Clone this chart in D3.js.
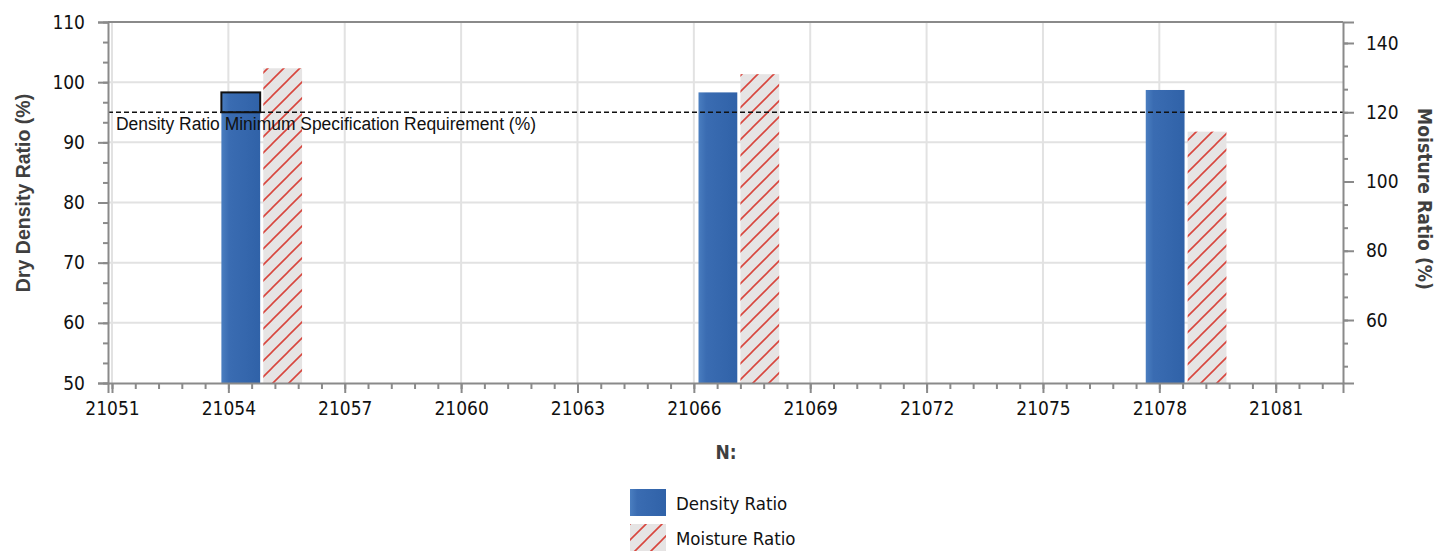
<!DOCTYPE html>
<html>
<head>
<meta charset="utf-8">
<script src="https://cdn.jsdelivr.net/npm/d3@7/dist/d3.min.js"></script>
<style>
  html, body { margin: 0; padding: 0; background: #fff; }
  svg { display: block; }
</style>
</head>
<body>
<svg id="chart" width="1437" height="551"></svg>
<script>
// ---- data ----
const nValues = [21054.86, 21067.16, 21078.69];
const densityRatio = [98.3, 98.3, 98.7];
const moistureRatio = [132.7, 131.0, 114.4];
const xTickValues = [21051, 21054, 21057, 21060, 21063, 21066, 21069, 21072, 21075, 21078, 21081];
const leftTickValues = [50, 60, 70, 80, 90, 100, 110];
const rightTickValues = [60, 80, 100, 120, 140];
const densitySpec = 95;
const specLabel = "Density Ratio Minimum Specification Requirement (%)";
const seriesNames = ["Density Ratio", "Moisture Ratio"];

// ---- layout ----
const svg = d3.select("#chart");
const L = 108, R = 1343, T = 22, B = 383;
const x = d3.scaleLinear().domain([21050.897, 21082.735]).range([L, R]);
const yL = d3.scaleLinear().domain([50, 110]).range([B, T]);
const yR = d3.scaleLinear().domain([41.81, 146.06]).range([B, T]);
const barW = 1.0, gap = 0.04;

const defs = svg.append("defs");
const grad = defs.append("linearGradient").attr("id", "blueGrad").attr("x1", "0").attr("x2", "1").attr("y1", "0").attr("y2", "0");
grad.append("stop").attr("offset", "0%").attr("stop-color", "#4a7ec0");
grad.append("stop").attr("offset", "20%").attr("stop-color", "#3a6cb2");
grad.append("stop").attr("offset", "100%").attr("stop-color", "#3062a8");
const pat = defs.append("pattern").attr("id", "hatch").attr("patternUnits", "userSpaceOnUse")
  .attr("width", 16).attr("height", 16);
pat.append("rect").attr("width", 16).attr("height", 16).attr("fill", "#e6e4e4");
pat.append("path").attr("d", "M-2,2 L2,-2 M0,16 L16,0 M14,18 L18,14")
  .attr("stroke", "#d8463e").attr("stroke-width", 1.6);

// grid
const grid = svg.append("g");
grid.selectAll("line.v").data(xTickValues).join("line")
  .attr("x1", d => x(d)).attr("x2", d => x(d)).attr("y1", T).attr("y2", B)
  .attr("stroke", "#e2e2e2").attr("stroke-width", 2);
grid.selectAll("line.h").data(leftTickValues.slice(1, -1)).join("line")
  .attr("x1", L).attr("x2", R).attr("y1", d => yL(d)).attr("y2", d => yL(d))
  .attr("stroke", "#e2e2e2").attr("stroke-width", 2);

// bars
const idx = d3.range(nValues.length);
svg.append("g").selectAll("rect").data(idx).join("rect")
  .attr("x", i => x(nValues[i] - gap - barW))
  .attr("width", i => x(nValues[i] - gap) - x(nValues[i] - gap - barW))
  .attr("y", i => yL(densityRatio[i]))
  .attr("height", i => B - yL(densityRatio[i]))
  .attr("fill", "url(#blueGrad)");
svg.append("g").selectAll("rect").data(idx).join("rect")
  .attr("x", i => x(nValues[i] + gap))
  .attr("width", i => x(nValues[i] + gap + barW) - x(nValues[i] + gap))
  .attr("y", i => yR(moistureRatio[i]))
  .attr("height", i => B - yR(moistureRatio[i]))
  .attr("fill", "url(#hatch)");

// highlighted box on first density bar (top to spec line)
svg.append("rect")
  .attr("x", x(nValues[0] - gap - barW))
  .attr("width", x(nValues[0] - gap) - x(nValues[0] - gap - barW))
  .attr("y", yL(densityRatio[0]))
  .attr("height", yL(densitySpec) - yL(densityRatio[0]))
  .attr("fill", "none").attr("stroke", "#111").attr("stroke-width", 2);

// spec line
svg.append("line").attr("x1", L).attr("x2", R)
  .attr("y1", yL(densitySpec)).attr("y2", yL(densitySpec))
  .attr("stroke", "#111").attr("stroke-width", 1.5).attr("stroke-dasharray", "5,3");
svg.append("text").attr("x", 116).attr("y", yL(densitySpec) + 18)
  .attr("font-family", "Liberation Sans, Arial, sans-serif").attr("font-size", 18)
  .attr("textLength", 420).attr("lengthAdjust", "spacingAndGlyphs")
  .attr("fill", "#111").text(specLabel);

// frame top
svg.append("line").attr("x1", L).attr("x2", R).attr("y1", T).attr("y2", T)
  .attr("stroke", "#8a8a8a").attr("stroke-width", 2);

const axisColor = "#8a8a8a";
const tickFont = "DejaVu Sans Condensed, DejaVu Sans, sans-serif";
function styleAxis(g) {
  g.select(".domain").attr("stroke", axisColor).attr("stroke-width", 2);
  g.selectAll(".tick line").attr("stroke", axisColor).attr("stroke-width", 2);
  g.selectAll("text").attr("font-family", tickFont).attr("font-size", 19).attr("fill", "#111");
}

// minor ticks
const xMinor = d3.range(21051, 21082.8, 0.6).filter(v => v <= 21082.7);
const yLMinor = d3.range(50, 110.01, 10 / 3);
const yRMinor = d3.range(60 - 40 / 3, 146, 20 / 3).filter(v => v >= 41.81);

svg.append("g").attr("transform", `translate(0,${B})`)
  .call(d3.axisBottom(x).tickValues(xMinor).tickSize(6).tickFormat(""))
  .call(g => { g.select(".domain").remove(); g.selectAll("line").attr("stroke", axisColor).attr("stroke-width", 2); });
svg.append("g").attr("transform", `translate(${L},0)`)
  .call(d3.axisLeft(yL).tickValues(yLMinor).tickSize(5).tickFormat(""))
  .call(g => { g.select(".domain").remove(); g.selectAll("line").attr("stroke", axisColor).attr("stroke-width", 2); });
svg.append("g").attr("transform", `translate(${R},0)`)
  .call(d3.axisRight(yR).tickValues(yRMinor).tickSize(5).tickFormat(""))
  .call(g => { g.select(".domain").remove(); g.selectAll("line").attr("stroke", axisColor).attr("stroke-width", 2); });

// major axes
svg.append("g").attr("transform", `translate(0,${B})`)
  .call(d3.axisBottom(x).tickValues(xTickValues).tickSize(10).tickPadding(9).tickFormat(d3.format("d")))
  .call(styleAxis);
svg.append("g").attr("transform", `translate(${L},0)`)
  .call(d3.axisLeft(yL).tickValues(leftTickValues).tickSize(10).tickPadding(13).tickFormat(d3.format("d")))
  .call(styleAxis);
svg.append("g").attr("transform", `translate(${R},0)`)
  .call(d3.axisRight(yR).tickValues(rightTickValues).tickSize(11).tickPadding(12).tickFormat(d3.format("d")))
  .call(styleAxis);

// axis titles
svg.append("text").attr("transform", "translate(30,193) rotate(-90)")
  .attr("text-anchor", "middle").attr("font-family", "Liberation Sans, Arial, sans-serif")
  .attr("font-weight", "bold").attr("font-size", 19.5).attr("fill", "#3f3f3f")
  .text("Dry Density Ratio (%)");
svg.append("text").attr("transform", "translate(1418,199) rotate(90)")
  .attr("text-anchor", "middle").attr("font-family", "DejaVu Sans Condensed, DejaVu Sans, sans-serif")
  .attr("font-weight", "bold").attr("font-size", 19).attr("fill", "#3f3f3f")
  .attr("textLength", 182).attr("lengthAdjust", "spacingAndGlyphs")
  .text("Moisture Ratio (%)");
svg.append("text").attr("x", 726).attr("y", 459)
  .attr("text-anchor", "middle").attr("font-family", "DejaVu Sans Condensed, DejaVu Sans, sans-serif")
  .attr("font-weight", "bold").attr("font-size", 19).attr("fill", "#3f3f3f")
  .text("N:");

// legend
const fills = ["url(#blueGrad)", "url(#hatch)"];
const leg = svg.append("g").attr("transform", "translate(630,489)");
const items = leg.selectAll("g").data(seriesNames).join("g")
  .attr("transform", (d, i) => `translate(0,${i * 35})`);
items.append("rect").attr("width", 36).attr("height", 27)
  .attr("fill", (d, i) => fills[i]);
items.append("text").attr("x", 46).attr("y", 21)
  .attr("font-family", tickFont).attr("font-size", 18.5).attr("fill", "#111")
  .text(d => d);
</script>
</body>
</html>
